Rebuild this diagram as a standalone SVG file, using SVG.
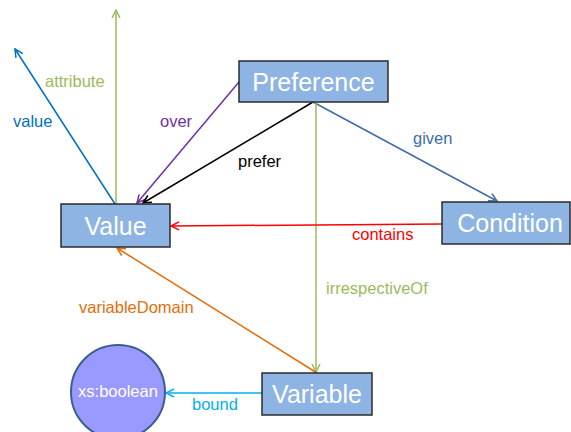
<svg xmlns="http://www.w3.org/2000/svg" width="571" height="432" viewBox="0 0 571 432">
  <style>
    .box { fill: #8EB4E3; stroke: #2B2B2B; stroke-width: 1.5; }
    .circ { fill: #9999FF; stroke: #3A5F8F; stroke-width: 2; }
    .node-text { font-family: "Liberation Sans", Arial, sans-serif; font-size: 25px; fill: #FFFFFF; text-anchor: middle; dominant-baseline: central; }
    .small-node-text { font-family: "Liberation Sans", Arial, sans-serif; font-size: 16.5px; fill: #FFFFFF; text-anchor: middle; dominant-baseline: central; }
    .lbl { font-family: "Liberation Sans", Arial, sans-serif; font-size: 16.5px; }
    .edge { fill: none; stroke-width: 1.5; }
  </style>
  <defs>
    <marker id="ah-blue" viewBox="0 0 10 10" refX="9" refY="5" markerWidth="10" markerHeight="10" markerUnits="userSpaceOnUse" orient="auto">
      <path d="M1,1 L9,5 L1,9" fill="none" stroke="#0070C0" stroke-width="1.5"/>
    </marker>
    <marker id="ah-green" viewBox="0 0 10 10" refX="9" refY="5" markerWidth="10" markerHeight="10" markerUnits="userSpaceOnUse" orient="auto">
      <path d="M1,1 L9,5 L1,9" fill="none" stroke="#9BBB59" stroke-width="1.5"/>
    </marker>
    <marker id="ah-purple" viewBox="0 0 10 10" refX="9" refY="5" markerWidth="10" markerHeight="10" markerUnits="userSpaceOnUse" orient="auto">
      <path d="M1,1 L9,5 L1,9" fill="none" stroke="#7030A0" stroke-width="1.5"/>
    </marker>
    <marker id="ah-black" viewBox="0 0 10 10" refX="9" refY="5" markerWidth="10" markerHeight="10" markerUnits="userSpaceOnUse" orient="auto">
      <path d="M1,1 L9,5 L1,9" fill="none" stroke="#000000" stroke-width="1.5"/>
    </marker>
    <marker id="ah-steel" viewBox="0 0 10 10" refX="9" refY="5" markerWidth="10" markerHeight="10" markerUnits="userSpaceOnUse" orient="auto">
      <path d="M1,1 L9,5 L1,9" fill="none" stroke="#3E6DA8" stroke-width="1.5"/>
    </marker>
    <marker id="ah-red" viewBox="0 0 10 10" refX="9" refY="5" markerWidth="10" markerHeight="10" markerUnits="userSpaceOnUse" orient="auto">
      <path d="M1,1 L9,5 L1,9" fill="none" stroke="#FF0000" stroke-width="1.5"/>
    </marker>
    <marker id="ah-orange" viewBox="0 0 10 10" refX="9" refY="5" markerWidth="10" markerHeight="10" markerUnits="userSpaceOnUse" orient="auto">
      <path d="M1,1 L9,5 L1,9" fill="none" stroke="#E46C0A" stroke-width="1.5"/>
    </marker>
    <marker id="ah-cyan" viewBox="0 0 10 10" refX="9" refY="5" markerWidth="10" markerHeight="10" markerUnits="userSpaceOnUse" orient="auto">
      <path d="M1,1 L9,5 L1,9" fill="none" stroke="#00B0F0" stroke-width="1.5"/>
    </marker>
  </defs>

  <!-- connectors -->
  <g id="connectors">
    <line class="edge" x1="115" y1="204" x2="15" y2="49" stroke="#0070C0" marker-end="url(#ah-blue)"/>
    <line class="edge" x1="116" y1="204" x2="116" y2="10" stroke="#9BBB59" marker-end="url(#ah-green)"/>
    <line class="edge" x1="239" y1="82" x2="137" y2="203" stroke="#7030A0" marker-end="url(#ah-purple)"/>
    <line class="edge" x1="313" y1="102" x2="143" y2="203" stroke="#000000" marker-end="url(#ah-black)"/>
    <line class="edge" x1="313" y1="102" x2="497" y2="201" stroke="#3E6DA8" marker-end="url(#ah-steel)"/>
    <line class="edge" x1="316" y1="102" x2="316" y2="372" stroke="#9BBB59" marker-end="url(#ah-green)"/>
    <line class="edge" x1="442" y1="224" x2="171" y2="226" stroke="#FF0000" marker-end="url(#ah-red)"/>
    <line class="edge" x1="317" y1="373" x2="117" y2="248" stroke="#E46C0A" marker-end="url(#ah-orange)"/>
    <line class="edge" x1="262" y1="393" x2="166" y2="393" stroke="#00B0F0" marker-end="url(#ah-cyan)"/>

    <text class="lbl" x="13" y="127" fill="#0070C0">value</text>
    <text class="lbl" x="45" y="87" fill="#9BBB59">attribute</text>
    <text class="lbl" x="160" y="127" fill="#7030A0">over</text>
    <text class="lbl" x="238" y="167" fill="#000000">prefer</text>
    <text class="lbl" x="413" y="144" fill="#3E6DA8">given</text>
    <text class="lbl" x="352" y="240" fill="#FF0000">contains</text>
    <text class="lbl" x="326" y="294" fill="#9BBB59">irrespectiveOf</text>
    <text class="lbl" x="79" y="313" fill="#E46C0A">variableDomain</text>
    <text class="lbl" x="192" y="410" fill="#00B0F0">bound</text>
  </g>

  <!-- nodes -->
  <g id="node-preference">
    <rect class="box" x="239" y="61" width="149" height="41"/>
    <text class="node-text" x="313.5" y="82">Preference</text>
  </g>
  <g id="node-value">
    <rect class="box" x="61" y="204" width="109" height="43"/>
    <text class="node-text" x="115.5" y="226">Value</text>
  </g>
  <g id="node-condition">
    <rect class="box" x="442" y="202" width="128" height="42"/>
    <text class="node-text" x="510" y="223">Condition</text>
  </g>
  <g id="node-variable">
    <rect class="box" x="262" y="373" width="110" height="42"/>
    <text class="node-text" x="317" y="394">Variable</text>
  </g>
  <g id="node-boolean">
    <circle class="circ" cx="118" cy="392" r="47"/>
    <text class="small-node-text" x="118" y="391">xs:boolean</text>
  </g>
</svg>
